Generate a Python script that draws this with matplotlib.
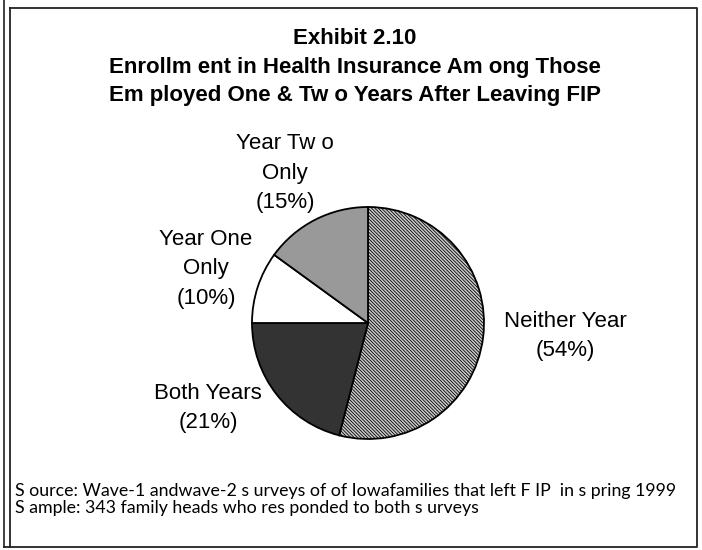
import matplotlib
matplotlib.use("Agg")
import matplotlib.pyplot as plt
from matplotlib.lines import Line2D
import numpy as np

categories = ["Neither Year", "Both Years", "Year One\nOnly", "Year Tw o\nOnly"]
values = [54, 21, 10, 15]
colors = ["#cccccc", "#333333", "#ffffff", "#999999"]
hatches = ["\\\\\\\\\\\\\\\\\\\\", None, None, None]

title_lines = ["Exhibit 2.10",
               "Enrollm ent in Health Insurance Am ong Those",
               "Em ployed One & Tw o Years After Leaving FIP"]
footer_lines = ["S ource: Wave-1 andwave-2 s urveys of of Iowafamilies that left F IP  in s pring 1999",
                "S ample: 343 family heads who res ponded to both s urveys"]

W, H = 702, 550
plt.rcParams['hatch.linewidth'] = 0.6
fig = plt.figure(figsize=(W/100, H/100), dpi=100)

def fx(x): return x / W
def fy(y): return 1 - y / H

# borders
lw = 1.3
fig.add_artist(Line2D([fx(3.5), fx(3.5)], [fy(0), fy(547)], color="#333333", lw=lw, transform=fig.transFigure))
fig.add_artist(Line2D([fx(9.5), fx(697), fx(697), fx(9.5), fx(9.5)],
                      [fy(7.5), fy(7.5), fy(547), fy(547), fy(7.5)], color="#222222", lw=lw, transform=fig.transFigure))
fig.add_artist(Line2D([fx(3.5), fx(9.5)], [fy(547), fy(547)], color="#222222", lw=lw, transform=fig.transFigure))

# title
for i, t in enumerate(title_lines):
    fig.text(fx(355), fy(38.5 + 28.5 * i), t, ha="center", va="center",
             fontsize=16, fontweight="bold", family="Liberation Sans")

# pie
cx, cy, r = 368, 323, 116
ax = fig.add_axes([fx(cx - r), fy(cy + r), 2 * r / W, 2 * r / H])
wedges, _ = ax.pie(values, colors=colors, startangle=90, counterclock=False,
                   wedgeprops=dict(edgecolor="black", linewidth=1.3))
for w, h in zip(wedges, hatches):
    if h:
        w.set_hatch(h)
ax.set_xlim(-1, 1); ax.set_ylim(-1, 1)
ax.axis("off")

label_pos = [(565, 336), (208, 408), (206, 269), (285, 173)]
for cat, v, (x, y) in zip(categories, values, label_pos):
    fig.text(fx(x), fy(y), f"{cat}\n({v}%)", ha="center", va="center",
             fontsize=16, family="Liberation Sans", linespacing=1.55)

for i, t in enumerate(footer_lines):
    fig.text(fx(15), fy(491 + 17 * i), t, ha="left", va="center",
             fontsize=12.8, family="Lato", fontweight="normal")

fig.savefig("out.png", dpi=100)
